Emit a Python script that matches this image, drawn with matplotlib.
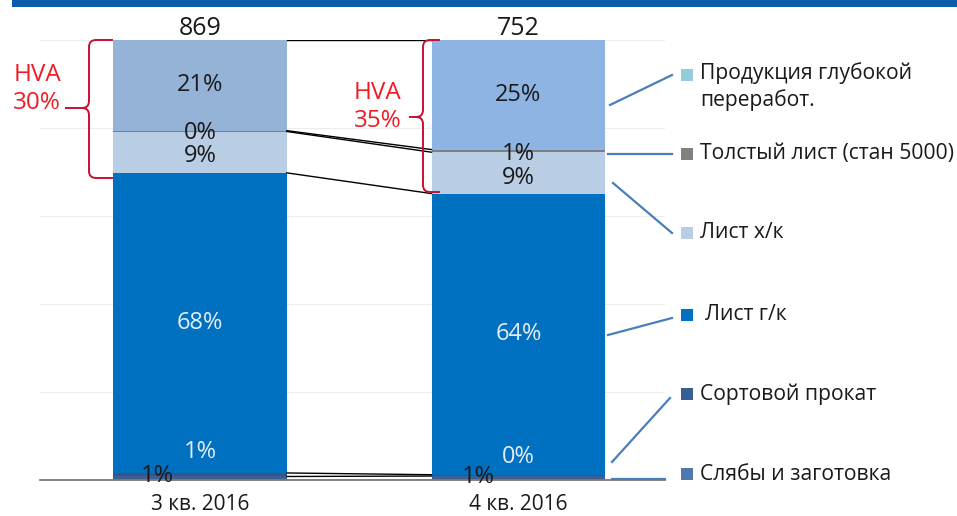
import matplotlib
matplotlib.use("Agg")
import matplotlib.pyplot as plt
import numpy as np
from matplotlib.patches import PathPatch, Rectangle
from matplotlib.path import Path

plt.rcParams["font.family"] = ["Open Sans", "DejaVu Sans"]

# ── data ───────────────────────────────────────────────────────────────
categories = ["3 кв. 2016", "4 кв. 2016"]
totals = [869, 752]
series = ["Слябы и заготовка", "Сортовой прокат", "Лист г/к", "Лист х/к",
          "Толстый лист (стан 5000)", "Продукция глубокой\nпереработ."]
q3_shares = [0.8, 0.8, 68.2, 9.4, 0.2, 20.6]
q4_shares = [0.9, 0.3, 63.9, 9.4, 0.6, 24.9]
hva_series = [3, 4, 5]          # Лист х/к + Толстый + Продукция

# ── styles ─────────────────────────────────────────────────────────────
bar_colors = [["#3d5f94", "#3d5f94"], ["#34578a", "#34578a"],
              ["#0070c0", "#0070c0"], ["#b9cde5", "#b9cde5"],
              ["#7f7f7f", "#7f7f7f"], ["#95b3d7", "#8db4e2"]]
legend_colors = ["#4f78b0", "#376092", "#0070c0", "#b9cde5", "#808080", "#92cddc"]
label_colors = ["#1a1a1a", "#e4edf7", "#e4edf7", "#1a1a1a", "#1a1a1a", "#1a1a1a"]
# manual label placement for thin segments: (bar, series) -> (dx, y)
label_pos = {(0, 0): (-0.135, 0.9), (0, 1): (0, 6.4), (0, 3): (0, 73.6), (0, 4): (0, 78.9),
             (1, 0): (-0.126, 0.7), (1, 1): (0, 5.2), (1, 3): (0, 68.6), (1, 4): (0, 74.1)}
RED = "#ee1c25"
BRACE = "#c8102e"
LEADER = "#4a7ebb"

W, H = 957, 516
fig = plt.figure(figsize=(W / 100, H / 100), dpi=100)
ax = fig.add_axes([40 / W, 36 / H, 625 / W, 440 / H])
ax.set_xlim(-0.502, 1.46)
ax.set_ylim(0, 100)

shares = np.array([q3_shares, q4_shares])
x = np.arange(len(categories))
width = 0.546
bottoms = np.zeros(len(categories))
cum = [np.zeros(len(categories))]
for j in range(len(series)):
    ax.bar(x, shares[:, j], width, bottom=bottoms,
           color=[bar_colors[j][i] for i in x], linewidth=0, zorder=2)
    for i in x:
        dx, y = label_pos.get((i, j), (0, bottoms[i] + shares[i, j] / 2))
        ax.text(i + dx, y, f"{shares[i, j]:.0f}%", ha="center", va="center",
                fontsize=17, color=label_colors[j], zorder=5)
    bottoms = bottoms + shares[:, j]
    cum.append(bottoms.copy())

# series lines between the two bars
for c in cum:
    ax.plot([x[0] + width / 2, x[1] - width / 2], [c[0], c[1]],
            color="black", lw=1.0, zorder=3)

for i in x:
    ax.annotate(str(totals[i]), (i, 100), xytext=(0, 3.5), textcoords="offset points",
                ha="center", va="baseline", fontsize=18, color="#1a1a1a")
    ax.annotate(categories[i], (i, 0), xytext=(0, -18), textcoords="offset points",
                ha="center", va="center", fontsize=15, color="#1a1a1a")

ax.set_yticks(np.arange(0, 101, 20))
ax.set_xticks([])
ax.tick_params(left=False, labelleft=False)
ax.grid(axis="y", color="#ededed", lw=0.8, zorder=0)
for s in ["top", "right", "left"]:
    ax.spines[s].set_visible(False)
ax.spines["bottom"].set_color("#7a7a7a")
ax.spines["bottom"].set_linewidth(1.3)
ax.spines["bottom"].set_zorder(4)

# ── overlay in pixel coordinates ───────────────────────────────────────
ov = fig.add_axes([0, 0, 1, 1], facecolor="none")
ov.set_xlim(0, W)
ov.set_ylim(H, 0)
ov.axis("off")

ov.add_patch(Rectangle((12, 0), W - 12, 7, color="#0b5dab", lw=0))


def brace(xs, xe, yt, yb, ytip, xtip, r=7):
    verts = [(xe, yt), (xs + r, yt), (xs, yt), (xs, yt + r), (xs, ytip - r),
             (xs, ytip), (xs - r, ytip), (xtip, ytip),
             (xs - r, ytip), (xs, ytip), (xs, ytip + r), (xs, yb - r),
             (xs, yb), (xs + r, yb), (xe, yb)]
    codes = [Path.MOVETO, Path.LINETO, Path.CURVE3, Path.CURVE3, Path.LINETO,
             Path.CURVE3, Path.CURVE3, Path.LINETO,
             Path.MOVETO, Path.CURVE3, Path.CURVE3, Path.LINETO,
             Path.CURVE3, Path.CURVE3, Path.LINETO]
    ov.add_patch(PathPatch(Path(verts, codes), fill=False, ec=BRACE, lw=1.4))


hva = shares[:, hva_series].sum(axis=1)
brace(89, 113, 40, 178, 108, 65)
brace(423, 440, 40, 192, 117, 409)
ov.text(37, 89, f"HVA\n{hva[0]:.0f}%", ha="center", va="center", fontsize=17.5, color=RED)
ov.text(378, 107, f"HVA\n{hva[1]:.0f}%", ha="center", va="center", fontsize=17.5, color=RED)

# legend with leader lines
legend_y = [474, 394, 315, 233, 154, 75]
legend_text_y = [474, 394, 315, 233, 154, 87]
legend_text_x = [700, 700, 705, 700, 700, 700]
leaders = [((612, 479), (665, 479)), ((612, 462), (670, 398)), ((608, 335), (672, 318)),
           ((613, 183), (672, 233)), ((608, 154), (672, 154)), ((610, 105), (672, 75))]
for j, name in enumerate(series):
    (x0, y0), (x1, y1) = leaders[j]
    ov.plot([x0, x1], [y0, y1], color=LEADER, lw=1.6)
    ov.add_patch(Rectangle((681, legend_y[j] - 6), 12, 12, color=legend_colors[j], lw=0))
    ov.text(legend_text_x[j], legend_text_y[j], name, ha="left", va="center",
            fontsize=15.2, color="#1a1a1a", linespacing=1.3)

fig.savefig("out.png", dpi=100)
